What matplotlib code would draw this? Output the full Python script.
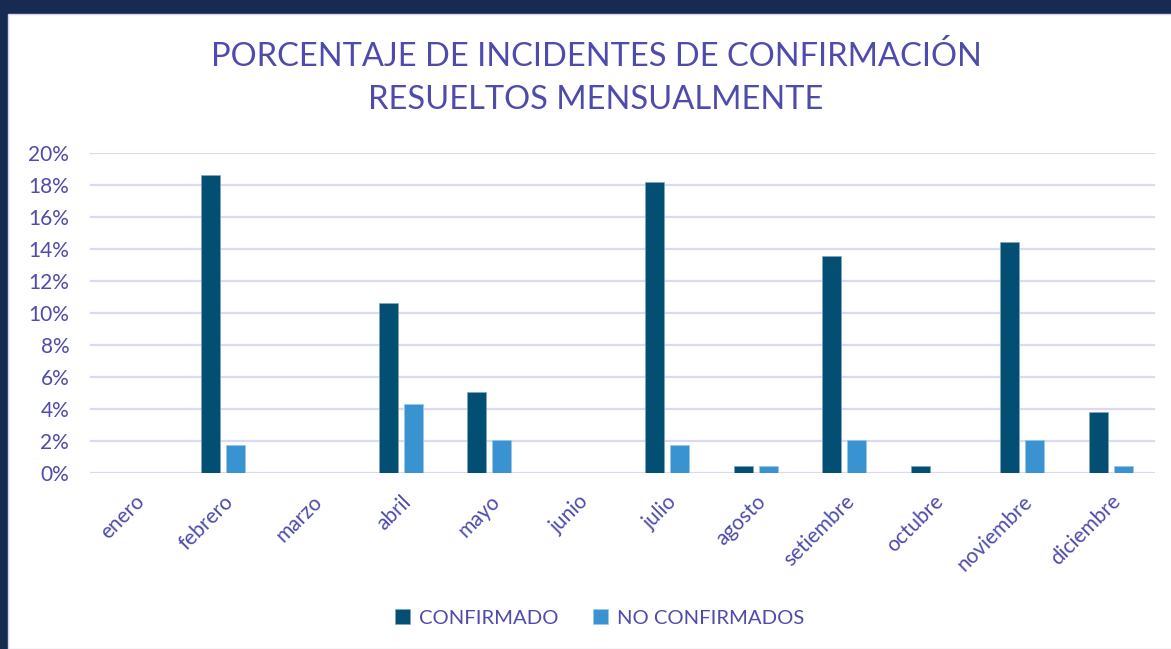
import matplotlib.pyplot as plt
import matplotlib.patches as mpatches
import numpy as np

# data (percent)
meses = ['enero', 'febrero', 'marzo', 'abril', 'mayo', 'junio', 'julio',
         'agosto', 'setiembre', 'octubre', 'noviembre', 'diciembre']
confirmado = [0, 18.6, 0, 10.6, 5.05, 0, 18.15, 0.43, 13.55, 0.43, 14.4, 3.85]
no_confirmados = [0, 1.75, 0, 4.3, 2.1, 0, 1.75, 0.43, 2.1, 0, 2.1, 0.43]
yticks = [0, 2, 4, 6, 8, 10, 12, 14, 16, 18, 20]

txt = '#4d4bab'
c_dark = '#034f74'
c_light = '#3893d0'
grid_c = '#dcd8f2'

plt.rcParams['font.family'] = ['Lato', 'DejaVu Sans']

fig = plt.figure(figsize=(11.71, 6.49), dpi=100)
fig.patch.set_facecolor('#172a52')
panel = mpatches.Rectangle((8 / 1171, 0), 1, 1 - 14 / 649,
                           transform=fig.transFigure, facecolor='white',
                           edgecolor='#d6d4f0', linewidth=1, zorder=-5)
fig.add_artist(panel)

ax = fig.add_axes([90 / 1171, 1 - 473.3 / 649, (1155 - 90) / 1171, (473.3 - 152.6) / 649])
ax.set_facecolor('none')

x = np.arange(len(meses))
w = 0.214
off = 0.141
ax.bar(x - off, confirmado, w, color=c_dark, edgecolor='#7fa6c0', linewidth=0.5,
       label='CONFIRMADO', zorder=3)
ax.bar(x + off, no_confirmados, w, color=c_light, edgecolor='#9cc7e6', linewidth=0.5,
       label='NO CONFIRMADOS', zorder=3)

ax.set_xlim(-0.5, len(meses) - 0.5)
ax.set_ylim(0, 20)
ax.set_yticks(yticks)
ax.set_yticklabels([f'{v}%' for v in yticks], fontsize=15, color=txt)
ax.yaxis.grid(True, color=grid_c, linewidth=1.6, zorder=0)
ax.set_axisbelow(True)
ax.tick_params(axis='y', length=0, pad=15)
ax.set_xticks(x)
ax.set_xticklabels(meses, rotation=45, ha='right', va='top', rotation_mode='anchor',
                   fontsize=15, color=txt)
ax.tick_params(axis='x', length=0, pad=13)
for s in ax.spines.values():
    s.set_visible(False)

fig.text(0.509, 1 - 57 / 649, 'PORCENTAJE DE INCIDENTES DE CONFIRMACIÓN',
         ha='center', va='center', fontsize=23.5, color=txt)
fig.text(0.509, 1 - 100 / 649, 'RESUELTOS MENSUALMENTE',
         ha='center', va='center', fontsize=23.5, color=txt)

leg = fig.legend(loc='center', bbox_to_anchor=(0.512, 1 - 618 / 649), ncol=2,
                 frameon=False, fontsize=14.6, handlelength=0.75, handleheight=0.7,
                 handletextpad=0.45, columnspacing=1.7)
for t in leg.get_texts():
    t.set_color(txt)

fig.savefig('out.png', dpi=100, facecolor=fig.get_facecolor())
